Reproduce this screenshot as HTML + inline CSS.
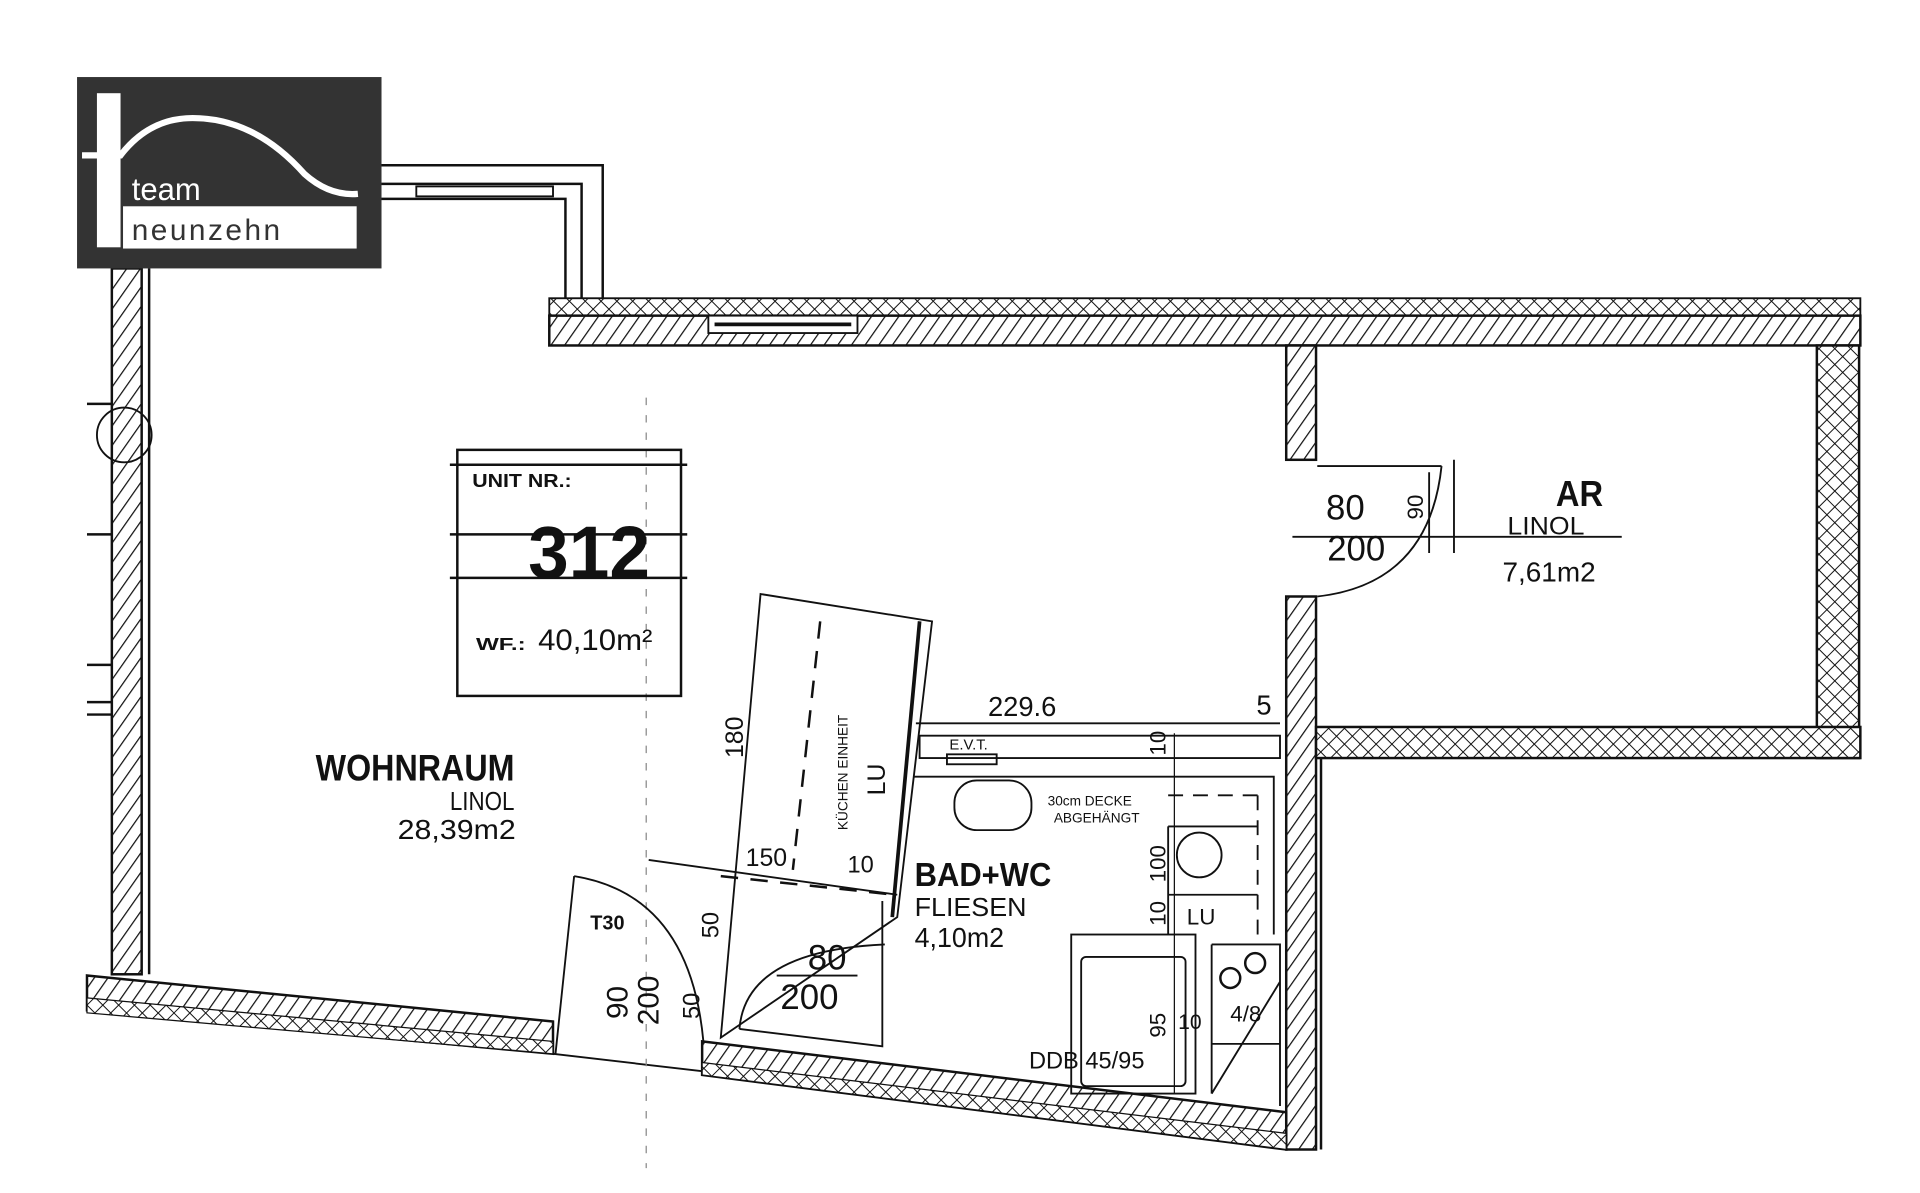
<!DOCTYPE html>
<html><head><meta charset="utf-8"><style>
html,body{margin:0;padding:0;background:#fff;overflow:hidden}
svg{display:block}
text{font-family:"Liberation Sans",sans-serif;fill:#111}
</style></head><body>
<svg width="1920" height="1193" viewBox="0 0 1545 960" preserveAspectRatio="none" xmlns="http://www.w3.org/2000/svg">
<defs>
<pattern id="h" width="9" height="9" patternUnits="userSpaceOnUse" patternTransform="rotate(35)">
<rect width="9" height="9" fill="#fff"/><line x1="0" y1="0" x2="0" y2="9" stroke="#111" stroke-width="2"/></pattern>
<pattern id="x" width="9" height="9" patternUnits="userSpaceOnUse" patternTransform="rotate(45)">
<rect width="9" height="9" fill="#fff"/><line x1="0" y1="0" x2="0" y2="9" stroke="#111" stroke-width="1.6"/><line x1="0" y1="0" x2="9" y2="0" stroke="#111" stroke-width="1.6"/></pattern>
</defs>
<g stroke="#111" stroke-width="2" fill="none">
<path d="M307 133 H485 V240"/>
<path d="M307 148 H468 V240"/>
<path d="M307 160 H455 V240"/>
<rect x="335" y="150" width="110" height="8" stroke-width="1.5"/>
<rect x="90" y="216" width="24" height="568" fill="url(#h)"/>
<line x1="120" y1="216" x2="120" y2="784"/>
<line x1="70" y1="325" x2="90" y2="325"/><line x1="70" y1="430" x2="90" y2="430"/>
<line x1="70" y1="535" x2="90" y2="535"/><line x1="70" y1="565" x2="90" y2="565"/><line x1="70" y1="575" x2="90" y2="575"/>
<circle cx="100" cy="350" r="22" stroke-width="1.5"/>
<rect x="442" y="240" width="1055" height="14" fill="url(#x)" stroke-width="1.5"/>
<rect x="442" y="254" width="1055" height="24" fill="url(#h)"/>
<rect x="570" y="254" width="120" height="14" fill="#fff" stroke-width="1.5"/>
<line x1="575" y1="261" x2="685" y2="261" stroke-width="3"/>
<rect x="1035" y="278" width="24" height="92" fill="url(#h)"/>
<rect x="1035" y="480" width="24" height="445" fill="url(#h)"/>
<line x1="1063" y1="610" x2="1063" y2="925"/>
<rect x="1462" y="278" width="34" height="332" fill="url(#x)"/>
<rect x="1059" y="585" width="438" height="25" fill="url(#x)"/>
<polygon points="70,785 445,822 445,848 70,813" fill="url(#h)"/>
<polygon points="70,803 445,838 445,848 70,815" fill="url(#x)" stroke-width="1"/>
<polygon points="565,838 1035,895 1035,925 565,865" fill="url(#h)"/>
<polygon points="565,855 1035,912 1035,925 565,865" fill="url(#x)" stroke-width="1"/>
<line x1="445" y1="848" x2="565" y2="862" stroke-width="1.5"/>
<line x1="520" y1="320" x2="520" y2="940" stroke-width="1" stroke-dasharray="6 8" stroke="#888"/>
<rect x="368" y="362" width="180" height="198"/>
<line x1="362" y1="374" x2="553" y2="374"/>
<line x1="362" y1="430" x2="553" y2="430"/>
<line x1="362" y1="465" x2="553" y2="465"/>
<polygon points="612,478 750,500 722,738 580,835" stroke-width="1.5"/>
<path d="M660 500 L638 700" stroke-dasharray="14 10"/>
<line x1="740" y1="500" x2="718" y2="738" stroke-width="3"/>
<line x1="522" y1="692" x2="722" y2="720" stroke-width="1.5"/>
<line x1="580" y1="705" x2="720" y2="720" stroke-dasharray="14 10"/>
<path d="M462 705 L447 848 M462 705 Q555 720 566 838" stroke-width="1.5"/>
<path d="M595 828 Q600 765 712 760 M595 828 L710 842 V725" stroke-width="1.5"/>
<line x1="625" y1="785" x2="690" y2="785" stroke-width="1.5"/>
<line x1="737" y1="582" x2="1030" y2="582" stroke-width="1.5"/>
<rect x="740" y="592" width="290" height="18" stroke-width="1.5"/>
<rect x="762" y="607" width="40" height="8" stroke-width="1.5"/>
<path d="M735 625 H1025 V752" stroke-width="1.5"/>
<rect x="768" y="628" width="62" height="40" rx="18" stroke-width="1.5"/>
<path d="M940 640 H1012 M1012 640 V752" stroke-dasharray="12 8" stroke-width="1.5"/>
<circle cx="965" cy="688" r="18" stroke-width="1.5"/>
<path d="M940 665 H1012 M940 720 H1012 M940 665 V752" stroke-width="1.5"/>
<rect x="862" y="752" width="100" height="128" stroke-width="1.5"/>
<rect x="870" y="770" width="84" height="104" rx="4" stroke-width="1.5"/>
<path d="M975 760 H1030 V890 M975 760 V880 M975 840 H1030 M975 880 L1030 790" stroke-width="1.5"/>
<circle cx="990" cy="787" r="8"/><circle cx="1010" cy="775" r="8"/>
<line x1="945" y1="590" x2="945" y2="880" stroke-width="1"/>
<path d="M1060 480 Q1150 470 1160 375 M1060 375 H1160 M1170 370 V445 M1150 380 V445" stroke-width="1.5"/>
<line x1="1040" y1="432" x2="1305" y2="432" stroke-width="1.5"/>
</g>
<rect x="62" y="62" width="245" height="154" fill="#333"/>
<rect x="78" y="75" width="19" height="124" fill="#fff"/>
<path d="M66 125 H97 Q120 95 155 95 Q205 95 245 140 Q265 158 288 156" stroke="#fff" stroke-width="5" fill="none"/>
<text x="106" y="161" style="fill:#fff;font-size:25px">team</text>
<rect x="99" y="166" width="188" height="34" fill="#fff"/>
<text x="106" y="193" style="fill:#333;font-size:24px;letter-spacing:2px">neunzehn</text>
<g lengthAdjust="spacingAndGlyphs">
<text x="380" y="392" font-size="15" font-weight="bold" textLength="80" lengthAdjust="spacingAndGlyphs">UNIT NR.:</text>
<text x="425" y="465" font-size="60" font-weight="bold" textLength="98" lengthAdjust="spacingAndGlyphs">312</text>
<text x="383" y="523" font-size="14" font-weight="bold" textLength="40" lengthAdjust="spacingAndGlyphs">WF.:</text>
<text x="433" y="523" font-size="24" textLength="92" lengthAdjust="spacingAndGlyphs">40,10m²</text>
<text x="254" y="628" font-size="30" font-weight="bold" textLength="160" lengthAdjust="spacingAndGlyphs">WOHNRAUM</text>
<text x="362" y="652" font-size="21" textLength="52" lengthAdjust="spacingAndGlyphs">LINOL</text>
<text x="320" y="675" font-size="22" textLength="95" lengthAdjust="spacingAndGlyphs">28,39m2</text>
<text x="736" y="713" font-size="27" font-weight="bold" textLength="110" lengthAdjust="spacingAndGlyphs">BAD+WC</text>
<text x="736" y="737" font-size="21" textLength="90" lengthAdjust="spacingAndGlyphs">FLIESEN</text>
<text x="736" y="762" font-size="22" textLength="72" lengthAdjust="spacingAndGlyphs">4,10m2</text>
<text x="1252" y="407" font-size="29" font-weight="bold" textLength="38" lengthAdjust="spacingAndGlyphs">AR</text>
<text x="1213" y="430" font-size="20" textLength="62" lengthAdjust="spacingAndGlyphs">LINOL</text>
<text x="1209" y="468" font-size="22" textLength="75" lengthAdjust="spacingAndGlyphs">7,61m2</text>
</g>
<text x="1067" y="418" font-size="28">80</text>
<text x="1068" y="451" font-size="28">200</text>
<text transform="translate(1145,418) rotate(-90)" font-size="18">90</text>
<text x="795" y="576" font-size="22">229.6</text>
<text x="1011" y="575" font-size="22">5</text>
<text x="764" y="603" font-size="12">E.V.T.</text>
<text x="843" y="648" font-size="11">30cm DECKE</text>
<text x="848" y="662" font-size="11">ABGEHÄNGT</text>
<text transform="translate(938,608) rotate(-90)" font-size="18">10</text>
<text transform="translate(938,710) rotate(-90)" font-size="18">100</text>
<text transform="translate(938,745) rotate(-90)" font-size="18">10</text>
<text transform="translate(938,835) rotate(-90)" font-size="18">95</text>
<text x="948" y="828" font-size="17">10</text>
<text x="955" y="744" font-size="18">LU</text>
<text x="990" y="822" font-size="18">4/8</text>
<text x="828" y="860" font-size="19">DDB  45/95</text>
<text transform="translate(598,610) rotate(-90)" font-size="20">180</text>
<text transform="translate(682,668) rotate(-90)" font-size="11">KÜCHEN EINHEIT</text>
<text transform="translate(712,640) rotate(-90)" font-size="20">LU</text>
<text x="600" y="697" font-size="20">150</text>
<text x="682" y="702" font-size="19">10</text>
<text x="475" y="748" font-size="16" font-weight="bold">T30</text>
<text transform="translate(578,755) rotate(-90)" font-size="19">50</text>
<text transform="translate(505,820) rotate(-90)" font-size="24">90</text>
<text transform="translate(530,825) rotate(-90)" font-size="24">200</text>
<text transform="translate(563,820) rotate(-90)" font-size="19">50</text>
<text x="650" y="780" font-size="28">80</text>
<text x="628" y="812" font-size="28">200</text>
</svg>
</body></html>
